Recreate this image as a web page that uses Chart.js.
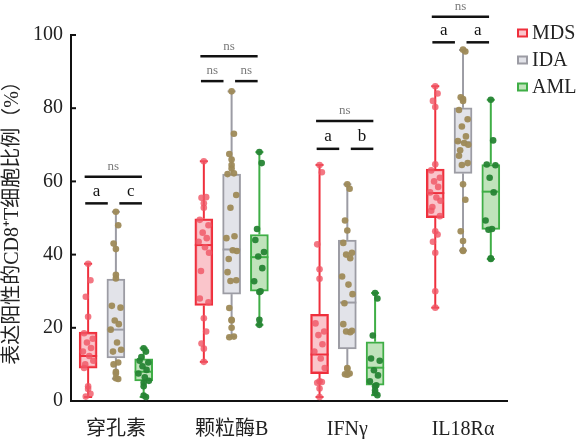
<!DOCTYPE html>
<html>
<head>
<meta charset="utf-8">
<script src="https://cdn.jsdelivr.net/npm/chart.js@4.4.0/dist/chart.umd.min.js"></script>
<style>
  html, body { margin: 0; padding: 0; background: #fff; }
  #wrap { width: 581px; height: 439px; }
</style>
</head>
<body>
<div id="wrap"><canvas id="chart" width="581" height="439"></canvas></div>
<script>
// ===== DATA =====
const categories = ['穿孔素', '颗粒酶B', 'IFNγ', 'IL18Rα'];
const groups = ['MDS', 'IDA', 'AML'];
const yTicks = [0, 20, 40, 60, 80, 100];

// box stats per category (min, q1, median, q3, max)
const mdsMin = [1.1, 10.7, 1.1, 25.5];
const mdsQ1  = [9.0, 26.1, 7.5, 50.1];
const mdsMed = [12.3, 42.6, 12.7, 56.8];
const mdsQ3  = [18.8, 49.8, 23.7, 63.4];
const mdsMax = [37.5, 65.5, 64.5, 86.0];

const idaMin = [6.1, 17.6, 7.3, 41.1];
const idaQ1  = [11.8, 29.2, 14.2, 62.2];
const idaMed = [19.5, 41.4, 26.9, 70.7];
const idaQ3  = [33.3, 62.0, 44.0, 80.1];
const idaMax = [51.7, 84.6, 59.2, 95.9];

const amlMin = [1.1, 20.8, 1.6, 38.8];
const amlQ1  = [5.5, 30.0, 4.3, 46.9];
const amlMed = [8.0, 39.3, 9.1, 57.2];
const amlQ3  = [11.5, 45.5, 16.2, 64.6];
const amlMax = [14.4, 68.0, 29.5, 82.3];

// individual samples per category
const mdsPoints = [
  [37.5, 33, 28.5, 23, 18.5, 17, 16, 14.5, 13.5, 12.3, 11, 10, 9, 4, 3.3, 2, 1.2],
  [65.5, 55.7, 55.5, 54, 52.8, 49.5, 48, 46, 44.5, 43.5, 42, 40.5, 35.5, 28, 27, 22.6, 19, 15.7, 14.3, 10.7],
  [64.5, 62.5, 42.8, 36, 33.4, 21.2, 19, 18, 15.5, 13.5, 11.6, 9, 5.4, 5.2, 5, 3.4, 1.1],
  [86, 84, 82, 80.3, 64.7, 63, 61, 60, 58.5, 57, 55.6, 54.7, 53, 52, 50.5, 46.4, 45.5, 43.5, 40.5, 30, 25.5]
];
const idaPoints = [
  [51.7, 48, 43, 41.5, 34.5, 33.5, 26, 25.5, 22, 21, 19.5, 16, 14, 13.5, 10.5, 10, 8, 7.5, 6.2, 6],
  [84.6, 73, 67.5, 66, 64.5, 63.5, 62.2, 62, 56.3, 52.8, 45, 44.5, 41.2, 41, 38.8, 35.2, 33, 32.8, 25.4, 22.2, 22, 20, 17.6, 17.4],
  [59.2, 58, 49.3, 46.6, 43.2, 40.5, 40, 39, 34, 31.8, 29.2, 26.7, 21, 19.2, 19, 18.8, 9, 8.8, 7.5, 7.3, 7.2],
  [96, 95.5, 83, 82.5, 82, 79.5, 77, 75, 72.3, 71, 70.5, 70, 68.5, 67, 65, 64.5, 59.2, 55, 46.4, 43.7, 41.2, 41]
];
const amlPoints = [
  [14.4, 13.5, 12, 11, 10.5, 9.5, 8.5, 7.5, 6.5, 5.5, 5, 4, 1.5, 1.1],
  [68, 65, 47, 44, 40.7, 39.5, 36.3, 32.7, 30, 29.8, 22.2, 20.8],
  [29.5, 28, 17.9, 11.6, 11, 8.4, 7, 5.4, 4.3, 4, 2.9, 2.2, 1.6],
  [82.3, 71.2, 64.6, 64.4, 61, 57, 49.3, 47, 46.8, 39, 38.8]
];

// significance marks
const sigTop   = ['ns', 'ns', 'ns', 'ns'];
const sigLeft  = ['a', 'ns', 'a', 'a'];
const sigRight = ['c', 'ns', 'b', 'a'];
const sigTopLevel = [61.3, 94.2, 76.5, 105];
const sigLowLevel = [54, 87.4, 68.9, 98];

// ===== STYLE =====
const SERIF = "'Liberation Serif', 'Noto Sans CJK SC', serif";
const groupOffset = [-0.24, 0, 0.24];
const strokeColors = ['#ef2f3c', '#9c9ca4', '#3fae46'];
const fillColors = ['rgba(245,150,160,0.55)', 'rgba(226,227,233,1)', 'rgba(192,227,187,1)'];
const pointColors = ['rgba(240,85,100,0.8)', 'rgba(158,138,88,0.95)', 'rgba(38,132,52,0.95)'];
const innerJitter = [-0.035, 0.04, -0.01, 0.025, -0.045, 0.01, 0.045, -0.025];
const outerJitter = [0, 0.02, -0.02, 0, 0];

const stats = [
  { min: mdsMin, q1: mdsQ1, med: mdsMed, q3: mdsQ3, max: mdsMax, pts: mdsPoints },
  { min: idaMin, q1: idaQ1, med: idaMed, q3: idaQ3, max: idaMax, pts: idaPoints },
  { min: amlMin, q1: amlQ1, med: amlMed, q3: amlQ3, max: amlMax, pts: amlPoints }
];

// scatter datasets (drawn on top)
const pointSets = stats.map((s, g) => {
  const data = [];
  s.pts.forEach((vals, i) => {
    let a = 0, b = 0;
    vals.forEach(v => {
      const inBox = v >= s.q1[i] && v <= s.q3[i];
      const jit = inBox ? innerJitter[a++ % innerJitter.length] : outerJitter[b++ % outerJitter.length];
      data.push({ x: i + 1 + groupOffset[g] + jit, y: v });
    });
  });
  return {
    type: 'scatter',
    label: groups[g] + ' points',
    data: data,
    order: 1,
    pointRadius: 3.3,
    pointBorderWidth: 0,
    pointBackgroundColor: pointColors[g],
    pointBorderColor: pointColors[g]
  };
});

// box datasets (floating bars)
const boxSets = stats.map((s, g) => ({
  type: 'bar',
  label: groups[g],
  data: categories.map((c, i) => ({ x: i + 1 + groupOffset[g], y: [s.q1[i], s.q3[i]] })),
  stats: categories.map((c, i) => ({
    x: i + 1 + groupOffset[g], min: s.min[i], q1: s.q1[i], med: s.med[i], q3: s.q3[i], max: s.max[i]
  })),
  order: 2,
  grouped: false,
  barThickness: 18,
  backgroundColor: fillColors[g],
  borderColor: strokeColors[g],
  borderWidth: 2,
  borderSkipped: false
}));

// ===== PLUGIN: whiskers, medians, legend, significance =====
function line(ctx, x1, y1, x2, y2) {
  ctx.beginPath();
  ctx.moveTo(x1, y1);
  ctx.lineTo(x2, y2);
  ctx.stroke();
}

const boxExtras = {
  id: 'boxExtras',
  afterDatasetDraw(chart, args) {
    const ds = chart.data.datasets[args.index];
    if (!ds.stats) return;
    const { ctx, scales: { x, y } } = chart;
    ctx.save();
    ctx.strokeStyle = ds.borderColor;
    ctx.lineWidth = 2;
    ds.stats.forEach(s => {
      const cx = x.getPixelForValue(s.x);
      const yMax = y.getPixelForValue(s.max), yMin = y.getPixelForValue(s.min);
      line(ctx, cx, y.getPixelForValue(s.q3), cx, yMax);
      line(ctx, cx, y.getPixelForValue(s.q1), cx, yMin);
      line(ctx, cx - 4, yMax, cx + 4, yMax);
      line(ctx, cx - 4, yMin, cx + 4, yMin);
      const ym = y.getPixelForValue(s.med);
      line(ctx, cx - 9, ym, cx + 9, ym);
    });
    ctx.restore();
  },
  afterDraw(chart) {
    const { ctx, scales: { x, y }, chartArea } = chart;
    ctx.save();

    // inward y ticks
    ctx.strokeStyle = '#111';
    ctx.lineWidth = 2;
    yTicks.forEach(v => {
      const py = y.getPixelForValue(v);
      line(ctx, chartArea.left, py, chartArea.left + 5, py);
    });

    // significance bars
    ctx.lineWidth = 2.5;
    ctx.strokeStyle = '#111';
    ctx.textAlign = 'center';
    ctx.textBaseline = 'middle';
    categories.forEach((c, i) => {
      const pos = v => x.getPixelForValue(i + 1 + v);
      const yt = y.getPixelForValue(sigTopLevel[i]);
      const yl = y.getPixelForValue(sigLowLevel[i]);
      line(ctx, pos(-0.27), yt, pos(0.225), yt);
      line(ctx, pos(-0.265), yl, pos(-0.07), yl);
      line(ctx, pos(0.03), yl, pos(0.225), yl);

      ctx.fillStyle = '#7a7a7a';
      ctx.font = '13px ' + SERIF;
      ctx.fillText(sigTop[i], (pos(-0.27) + pos(0.225)) / 2, yt - 10);

      [sigLeft[i], sigRight[i]].forEach((t, k) => {
        const cx = k === 0 ? (pos(-0.265) + pos(-0.07)) / 2 : (pos(0.03) + pos(0.225)) / 2;
        if (t === 'ns') {
          ctx.fillStyle = '#7a7a7a';
          ctx.font = '13px ' + SERIF;
          ctx.fillText(t, cx, yl - 11);
        } else {
          ctx.fillStyle = '#111';
          ctx.font = '17px ' + SERIF;
          ctx.fillText(t, cx, yl - 12);
        }
      });
    });

    // legend
    ctx.textAlign = 'left';
    ctx.font = '20px ' + SERIF;
    groups.forEach((g, k) => {
      const ly = 33 + k * 27;
      ctx.fillStyle = fillColors[k];
      ctx.strokeStyle = strokeColors[k];
      ctx.lineWidth = 2;
      ctx.beginPath();
      ctx.rect(518, ly - 3.5, 9, 7);
      ctx.fill();
      ctx.stroke();
      ctx.fillStyle = '#222';
      ctx.fillText(g, 532, ly + 1);
    });
    ctx.restore();
  }
};

// ===== CHART =====
new Chart(document.getElementById('chart'), {
  type: 'bar',
  data: { datasets: [...pointSets, ...boxSets] },
  options: {
    responsive: false,
    animation: false,
    layout: { padding: { top: 35, right: 74, bottom: -20, left: 0 } },
    plugins: {
      legend: { display: false },
      tooltip: { enabled: false }
    },
    scales: {
      x: {
        type: 'linear',
        min: 0.612,
        max: 4.38,
        offset: false,
        grid: { display: false, drawTicks: false },
        border: { display: true, color: '#111', width: 2 },
        afterBuildTicks: s => { s.ticks = categories.map((c, i) => ({ value: i + 1 })); },
        ticks: {
          padding: 17,
          autoSkip: false,
          maxRotation: 0,
          color: '#222',
          font: { family: SERIF, size: 20 },
          callback: v => categories[Math.round(v) - 1] || ''
        }
      },
      y: {
        type: 'linear',
        min: 0,
        max: 100,
        grid: { display: false, drawTicks: false },
        border: { display: true, color: '#111', width: 2 },
        afterBuildTicks: s => { s.ticks = yTicks.map(v => ({ value: v })); },
        ticks: {
          padding: 8,
          color: '#222',
          font: { family: SERIF, size: 20 }
        },
        title: {
          display: true,
          text: '表达阳性的CD8⁺T细胞比例（%）',
          color: '#222',
          font: { family: SERIF, size: 20 },
          padding: { top: 1, bottom: 0 }
        }
      }
    }
  },
  plugins: [boxExtras]
});
</script>
</body>
</html>
